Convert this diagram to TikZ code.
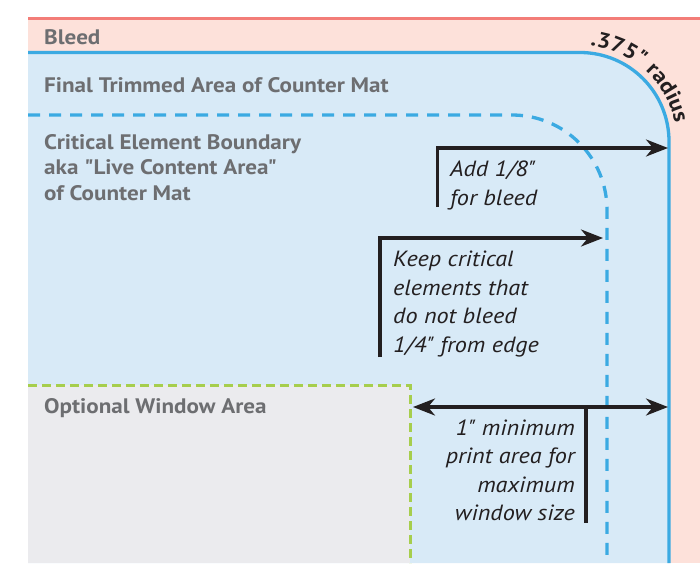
\documentclass[tikz,border=0pt]{standalone}
\usepackage{fontspec}
\setmainfont{PT Sans}[Ligatures=TeXOff, FakeStretch=1.1]
\usetikzlibrary{arrows.meta,decorations.text}
\definecolor{bleedfill}{RGB}{253,225,218}
\definecolor{bleedline}{RGB}{243,125,120}
\definecolor{trimfill}{RGB}{216,234,247}
\definecolor{trimline}{RGB}{59,170,226}
\definecolor{winfill}{RGB}{235,235,238}
\definecolor{winline}{RGB}{166,206,77}
\definecolor{labelgray}{RGB}{109,110,113}
\definecolor{inkblack}{RGB}{35,31,32}
\tikzset{
  lbl/.style={font=\fontsize{21}{25.5}\selectfont\bfseries, text=labelgray, inner sep=0pt, anchor=base west},
  note/.style={font=\fontsize{22}{28.5}\selectfont\itshape, text=inkblack, inner sep=0pt},
  tip/.tip={Stealth[length=22pt,width=17pt,inset=7pt]},
  ptr/.style={line width=3.2pt, draw=inkblack, line join=miter, -tip},
  dptr/.style={line width=3.2pt, draw=inkblack, tip-tip},
  bar/.style={line width=3.2pt, draw=inkblack},
}
\begin{document}
\begin{tikzpicture}[x=1pt,y=1pt]
\useasboundingbox (0,0) rectangle (700,-563);
\fill[white] (0,0) rectangle (700,-563);
% bleed area
\fill[bleedfill] (28,-18.5) rectangle (700,-563);
\draw[bleedline, line width=2.7pt] (28,-18.5) -- (700,-18.5);
% trimmed area
\coordinate (trimc) at (580,-141.5);
\fill[trimfill] (28,-52.5) -- (580,-52.5) arc[start angle=90,end angle=0,radius=89] -- (669,-563) -- (28,-563) -- cycle;
\draw[trimline, line width=3.3pt] (28,-52.5) -- (580,-52.5) arc[start angle=90,end angle=0,radius=89] -- (669,-563);
% window area
\fill[winfill] (28,-385) rectangle (410,-563);
\draw[winline, line width=3pt, dash pattern=on 9pt off 5pt] (28,-385) -- (410,-385) -- (410,-563);
% critical boundary
\draw[trimline, line width=3.3pt, dash pattern=on 12pt off 9pt] (28,-115) -- (512,-115) arc[start angle=90,end angle=0,radius=95] -- (607,-563);
% radius label
\path[decorate, decoration={text along path, text align={left}, text={|\fontsize{21.5}{21.5}\selectfont\bfseries\color{inkblack}|.375" radius}}]
  (trimc) ++(84:96.5) arc[start angle=84, end angle=2, radius=96.5];
% labels
\node[lbl] (bleed) at (44,-44) {Bleed};
\node[lbl] (trim) at (44,-92) {Final Trimmed Area of Counter Mat};
\node[lbl] (crit) at (44,-149) {\begin{tabular}[t]{@{}l@{}}Critical Element Boundary\\aka "Live Content Area"\\of Counter Mat\end{tabular}};
\node[lbl] (win) at (44,-413) {Optional Window Area};
% add 1/8 arrow
\coordinate (a1bot) at (437.5,-207);
\coordinate (a1cor) at (437.5,-148);
\coordinate (a1tip) at (668,-148);
\draw[ptr] (a1bot) -- (a1cor) -- (a1tip);
\node[note, anchor=base west] (addtxt) at (450,-176.5) {\begin{tabular}[t]{@{}l@{}}Add 1/8"\\for bleed\end{tabular}};
% keep arrow
\coordinate (a2bot) at (380,-357);
\coordinate (a2cor) at (380,-238);
\coordinate (a2tip) at (603,-238);
\draw[ptr] (a2bot) -- (a2cor) -- (a2tip);
\node[note, anchor=base west] (keeptxt) at (393,-266.5) {\begin{tabular}[t]{@{}l@{}}Keep critical\\elements that\\do not bleed\\1/4" from edge\end{tabular}};
% window arrow
\coordinate (w1) at (413,-407);
\coordinate (w2) at (668,-407);
\coordinate (wtop) at (586,-407);
\coordinate (wbot) at (586,-523);
\draw[dptr] (w1) -- (w2);
\draw[bar] (wtop) -- (wbot);
\node[note, anchor=base east] (mintxt) at (575,-435) {\begin{tabular}[t]{@{}r@{}}1" minimum\\print area for\\maximum\\window size\end{tabular}};
\end{tikzpicture}
\end{document}
